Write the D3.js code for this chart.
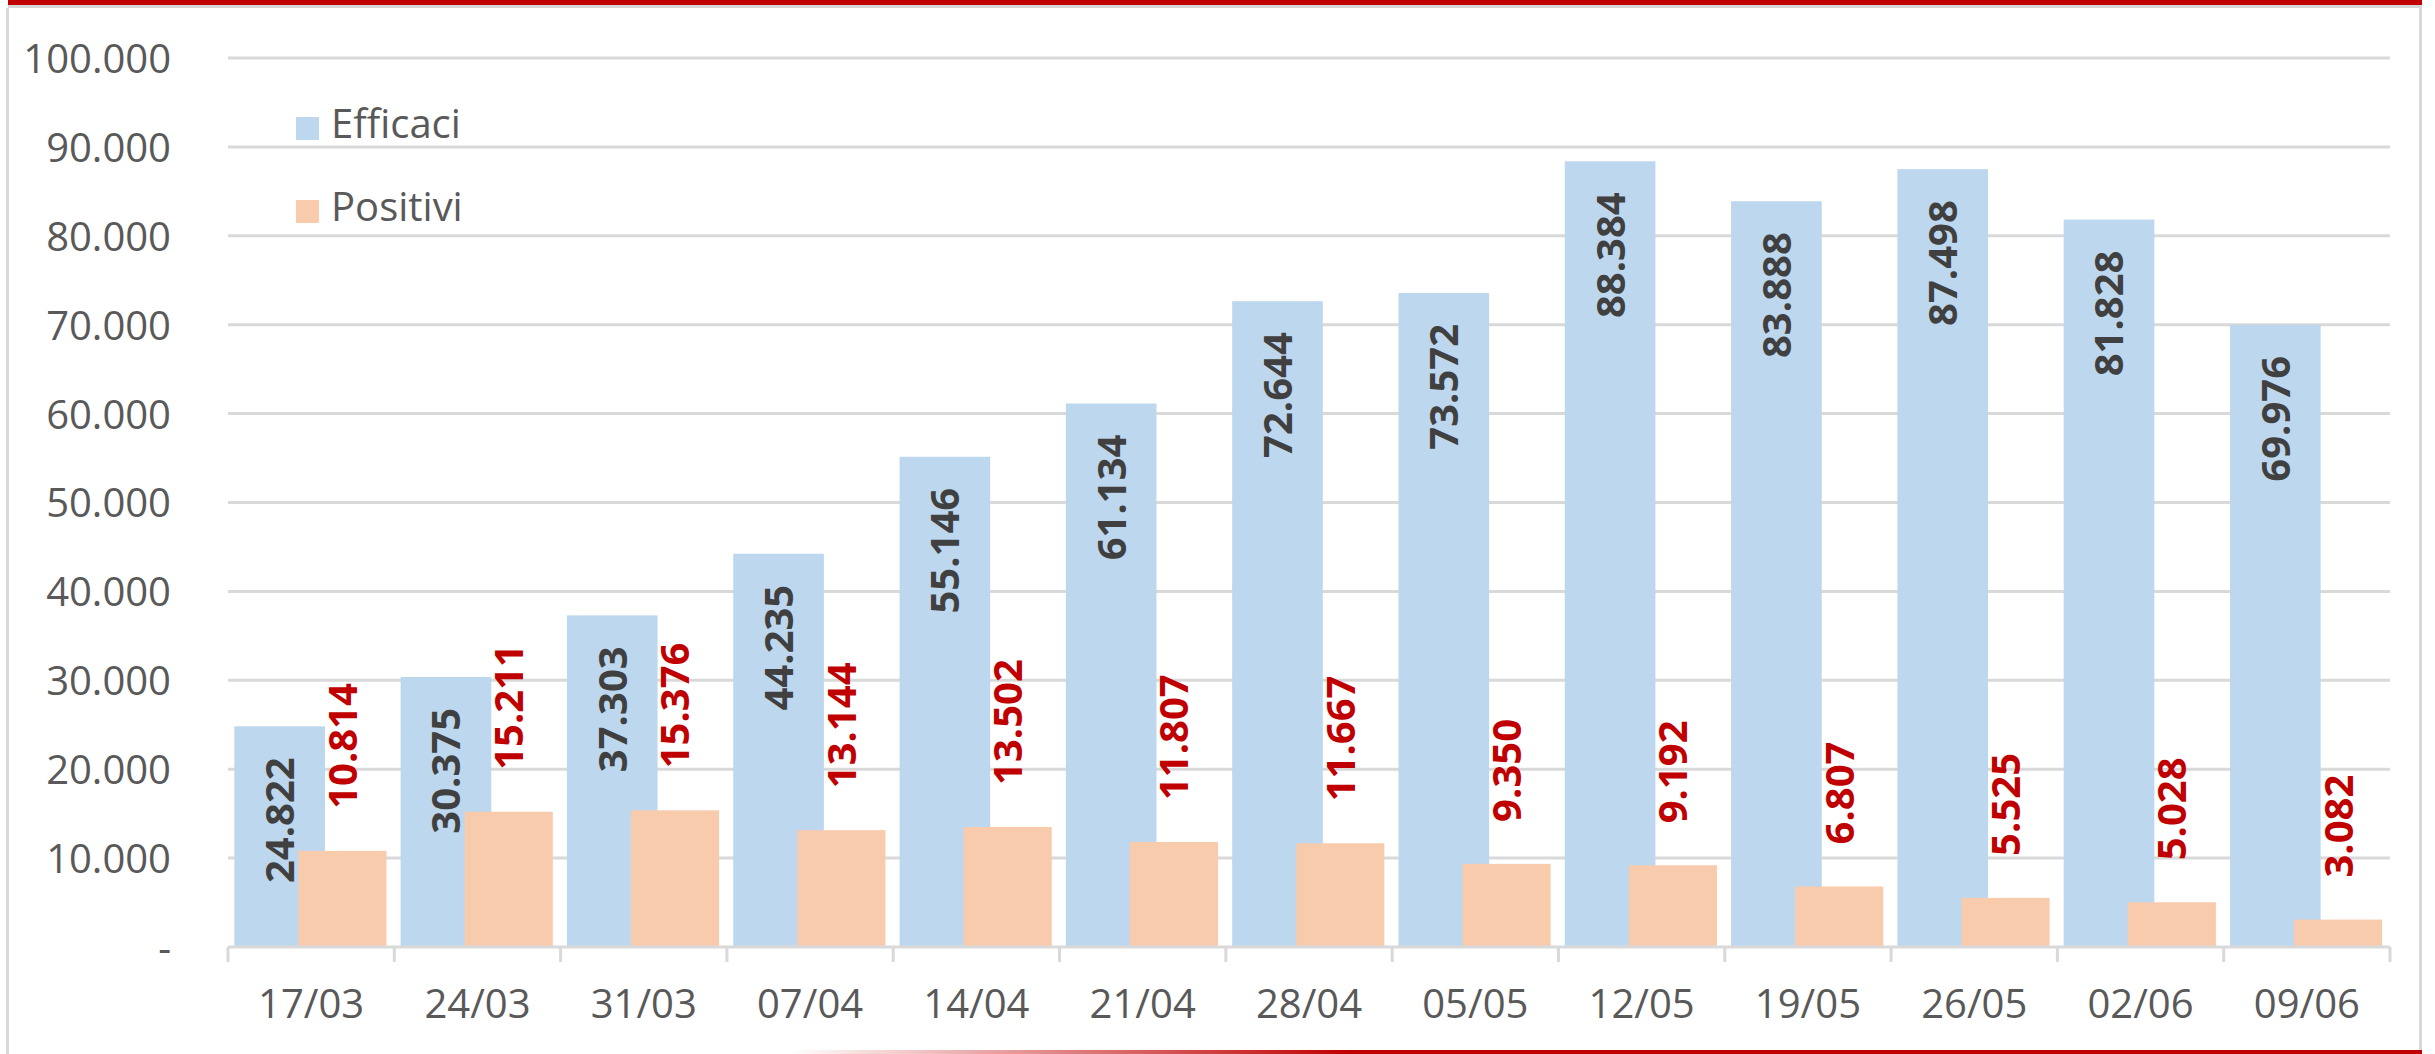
<!DOCTYPE html>
<html>
<head>
<meta charset="utf-8">
<script src="https://cdn.jsdelivr.net/npm/d3@7"></script>
<style>
  html, body { margin: 0; padding: 0; background: #ffffff; }
  svg { display: block; }
</style>
</head>
<body>
<svg id="chart" width="2435" height="1054"></svg>
<script>
// ---- data ----
const categories = ["17/03","24/03","31/03","07/04","14/04","21/04","28/04","05/05","12/05","19/05","26/05","02/06","09/06"];
const efficaci = [24822, 30375, 37303, 44235, 55146, 61134, 72644, 73572, 88384, 83888, 87498, 81828, 69976];
const positivi = [10814, 15211, 15376, 13144, 13502, 11807, 11667, 9350, 9192, 6807, 5525, 5028, 3082];
const seriesNames = ["Efficaci", "Positivi"];
const yTicks = [0, 10000, 20000, 30000, 40000, 50000, 60000, 70000, 80000, 90000, 100000];

(function () {
// ---- layout ----
const W = 2435, H = 1054;
const plotL = 228, plotR = 2390, plotT = 58, base = 947;
const blue = "#BDD7EE", orange = "#F8CBAD";
const labDark = "#404040", labRed = "#C00000";
const axisTxt = "#595959", gridCol = "#D9D9D9";
const FONT = "'Open Sans', 'Noto Sans', sans-serif";

const itLocale = d3.formatLocale({decimal: ",", thousands: ".", grouping: [3], currency: ["", ""]});
const fmt = itLocale.format(",d");

const svg = d3.select("#chart");

// frame decorations
const defs = svg.append("defs");
const g1 = defs.append("linearGradient").attr("id", "botRed")
  .attr("gradientUnits", "userSpaceOnUse").attr("x1", 790).attr("x2", 1350).attr("y1", 0).attr("y2", 0);
g1.append("stop").attr("offset", 0).attr("stop-color", "#ffffff");
g1.append("stop").attr("offset", 1).attr("stop-color", "#C00000");

svg.append("rect").attr("x", 0).attr("y", 0).attr("width", W).attr("height", H).attr("fill", "#ffffff");
svg.append("rect").attr("x", 8).attr("y", 5).attr("width", 2414).attr("height", 3).attr("fill", "#D6D6D6");
svg.append("rect").attr("x", 8).attr("y", 0).attr("width", 2414).attr("height", 5).attr("fill", "#C00000");
svg.append("rect").attr("x", 6).attr("y", 8).attr("width", 3).attr("height", H - 8).attr("fill", "#D9D9D9");
svg.append("rect").attr("x", 2419).attr("y", 8).attr("width", 3).attr("height", H - 12).attr("fill", "#D9D9D9");
svg.append("rect").attr("x", 790).attr("y", 1050).attr("width", 2422 - 790).attr("height", 4).attr("fill", "url(#botRed)");

// scales
const x = d3.scaleBand().domain(categories).range([plotL, plotR]).paddingInner(0).paddingOuter(0);
const y = d3.scaleLinear().domain([0, 100000]).range([base, plotT]);
const bw = x.bandwidth();
const effOff = bw * 0.038, effW = bw * 0.545;
const posOff = bw * 0.423, posW = bw * 0.53;

// gridlines
svg.append("g").selectAll("line").data(yTicks.filter(d => d > 0)).join("line")
  .attr("x1", plotL).attr("x2", plotR)
  .attr("y1", d => y(d)).attr("y2", d => y(d))
  .attr("stroke", gridCol).attr("stroke-width", 3);

// y axis labels
const yAxis = d3.axisLeft(y).tickValues(yTicks).tickSize(0).tickPadding(0)
  .tickFormat(d => d === 0 ? "-" : fmt(d));
const yg = svg.append("g").attr("transform", `translate(171,0)`).call(yAxis);
yg.select(".domain").remove();
yg.selectAll("text").attr("font-family", FONT).attr("font-size", 40).attr("fill", axisTxt)
  .attr("x", 0).attr("dy", "0.36em");

// bars
const groups = svg.append("g").selectAll("g").data(categories).join("g");
groups.append("rect")
  .attr("x", d => x(d) + effOff).attr("width", effW)
  .attr("y", (d, i) => y(efficaci[i])).attr("height", (d, i) => base - y(efficaci[i]))
  .attr("fill", blue);
groups.append("rect")
  .attr("x", d => x(d) + posOff).attr("width", posW)
  .attr("y", (d, i) => y(positivi[i])).attr("height", (d, i) => base - y(positivi[i]))
  .attr("fill", orange);

// x axis line and ticks
const xAxis = d3.axisBottom(x).tickSize(0).tickPadding(0);
const xg = svg.append("g").attr("transform", `translate(0,${base})`).call(xAxis);
xg.select(".domain").attr("stroke", gridCol).attr("stroke-width", 3)
  .attr("d", `M${plotL},0H${plotR}`);
xg.selectAll("text").attr("font-family", FONT).attr("font-size", 40).attr("fill", axisTxt)
  .attr("y", 71).attr("dy", 0);
const bounds = categories.map(c => x(c)).concat([plotR]);
svg.append("g").selectAll("line").data(bounds).join("line")
  .attr("x1", d => d).attr("x2", d => d).attr("y1", base).attr("y2", base + 15)
  .attr("stroke", gridCol).attr("stroke-width", 3);

// data labels
svg.append("g").selectAll("text").data(categories).join("text")
  .attr("transform", (d, i) => `translate(${x(d) + effOff + effW / 2},${y(efficaci[i]) + 31}) rotate(-90)`)
  .attr("text-anchor", "end").attr("dy", "0.36em")
  .attr("font-family", FONT).attr("font-weight", 700).attr("font-size", 40)
  .attr("fill", labDark).text((d, i) => fmt(efficaci[i]));
svg.append("g").selectAll("text").data(categories).join("text")
  .attr("transform", (d, i) => `translate(${x(d) + posOff + posW / 2},${y(positivi[i]) - 42}) rotate(-90)`)
  .attr("text-anchor", "start").attr("dy", "0.36em")
  .attr("font-family", FONT).attr("font-weight", 700).attr("font-size", 40)
  .attr("fill", labRed).text((d, i) => fmt(positivi[i]));

// legend
const legend = svg.append("g");
const legColors = [blue, orange];
const legY = [128, 211];
seriesNames.forEach((name, i) => {
  legend.append("rect").attr("x", 296).attr("y", legY[i] - 11).attr("width", 23).attr("height", 23).attr("fill", legColors[i]);
  legend.append("text").attr("x", 331).attr("y", legY[i] + 10)
    .attr("font-family", FONT).attr("font-size", 40).attr("fill", axisTxt).text(name);
});
})();
</script>
</body>
</html>
